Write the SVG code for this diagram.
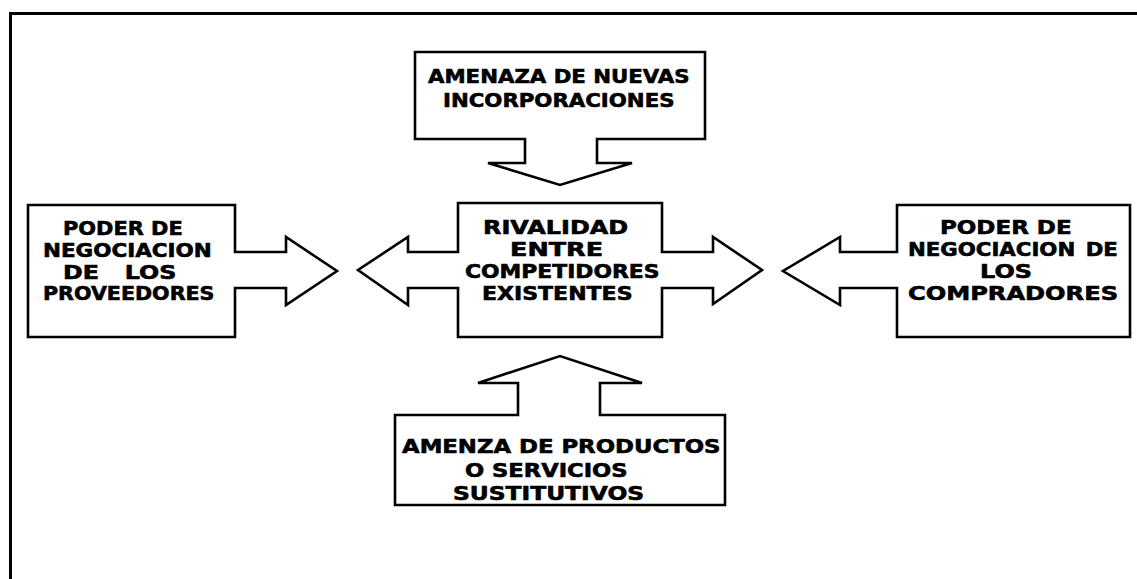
<svg xmlns="http://www.w3.org/2000/svg" width="1137" height="579" viewBox="0 0 1137 579">
<style>
.shape{fill:#fff;stroke:#000;stroke-width:2.6;stroke-linejoin:miter}
.frame{fill:none;stroke:#000;stroke-width:3}
text{font-family:"DejaVu Sans","Verdana",sans-serif;font-weight:bold;font-size:19px;fill:#000;stroke:#000;stroke-width:0.6}
</style>
<rect width="1137" height="579" fill="#fff"/>
<path class="frame" d="M10.5,579 V13.5 H1137"/>
<g id="connectors"/>
<g id="node-nuevas">
<path class="shape" d="M415,52 H705 V139 H597 V163 H632 L560,185 L488,163 H525 V139 H415 Z"/>
<text transform="translate(428,83) scale(1.12,1)">AMENAZA DE NUEVAS</text>
<text transform="translate(443,107) scale(1.12,1)">INCORPORACIONES</text>
</g>
<g id="node-proveedores">
<path class="shape" d="M28,205 H235 V252 H286 V237 L337,271 L286,305 V288 H235 V337 H28 Z"/>
<text transform="translate(63,235) scale(1.1,1)">PODER DE</text>
<text transform="translate(43,257) scale(1.13,1)">NEGOCIACION</text>
<text transform="translate(63,279) scale(1.25,1)" word-spacing="14">DE LOS</text>
<text transform="translate(43,300) scale(1.085,1)">PROVEEDORES</text>
</g>
<g id="node-rivalidad">
<path class="shape" d="M458,203 H662 V252 H713 V237 L762,270 L713,304 V288 H662 V337 H458 V288 H408 V305 L358,270 L408,237 V252 H458 Z"/>
<text transform="translate(483,234) scale(1.26,1)">RIVALIDAD</text>
<text transform="translate(510,256) scale(1.34,1)">ENTRE</text>
<text transform="translate(465,278) scale(1.15,1)">COMPETIDORES</text>
<text transform="translate(482,300) scale(1.16,1)">EXISTENTES</text>
</g>
<g id="node-compradores">
<path class="shape" d="M897,205 H1130 V337 H897 V288 H840 V305 L783,271 L840,237 V252 H897 Z"/>
<text transform="translate(940,234) scale(1.21,1)">PODER DE</text>
<text transform="translate(908,256) scale(1.12,1)" word-spacing="2.7">NEGOCIACION DE</text>
<text transform="translate(980,278) scale(1.26,1)">LOS</text>
<text transform="translate(908,300) scale(1.27,1)">COMPRADORES</text>
</g>
<g id="node-sustitutivos">
<path class="shape" d="M395,415 H518 V383 H478 L560,356 L642,383 H600 V415 H725 V505 H395 Z"/>
<text transform="translate(402,453) scale(1.2,1)">AMENZA DE PRODUCTOS</text>
<text transform="translate(465,477) scale(1.19,1)">O SERVICIOS</text>
<text transform="translate(453,500) scale(1.23,1)">SUSTITUTIVOS</text>
</g>
</svg>
